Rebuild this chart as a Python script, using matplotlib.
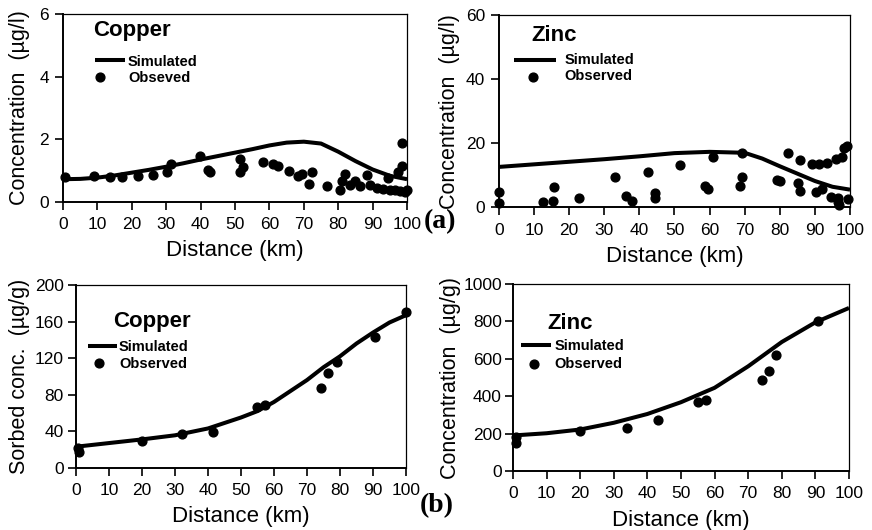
import matplotlib
matplotlib.use("Agg")
import matplotlib.pyplot as plt

plt.rcParams['font.family'] = ['Liberation Sans', 'DejaVu Sans']

# ---------------- data ----------------
# (a) dissolved copper
cu_sim_x = [0, 5, 10, 15, 20, 25, 30, 35, 40, 45, 50, 55, 60, 65, 70, 75, 80, 85, 90, 95, 100]
cu_sim_y = [0.72, 0.73, 0.77, 0.84, 0.93, 1.02, 1.12, 1.23, 1.35, 1.46, 1.57, 1.68, 1.80, 1.89,
            1.92, 1.86, 1.60, 1.30, 1.03, 0.83, 0.72]
cu_obs_x = [0.5, 9, 13.6, 17.2, 21.8, 26.2, 30.3, 31.3, 39.7, 42.2, 42.6, 51.5, 51.5, 52.4,
            58.2, 61.1, 62.6, 65.8, 68.4, 69.4, 71.6, 72.3, 76.6, 80.5, 81, 82, 83.4, 84.9,
            86.3, 88.3, 89.2, 91.2, 93.1, 94.6, 95.1, 96.5, 97.5, 98.0, 98.5, 98.5, 99.4, 99.9]
cu_obs_y = [0.78, 0.81, 0.78, 0.78, 0.81, 0.87, 0.95, 1.21, 1.45, 1.03, 0.95, 1.37, 0.94, 1.11,
            1.26, 1.22, 1.15, 0.97, 0.81, 0.90, 0.58, 0.94, 0.49, 0.38, 0.65, 0.90, 0.54, 0.65,
            0.49, 0.87, 0.54, 0.44, 0.42, 0.76, 0.38, 0.36, 0.94, 0.33, 1.15, 1.88, 0.30, 0.38]

# (a) dissolved zinc
zn_sim_x = [0, 10, 20, 30, 40, 50, 60, 70, 75, 80, 85, 90, 95, 100]
zn_sim_y = [12.6, 13.4, 14.2, 15.0, 15.9, 16.9, 17.3, 17.0, 15.2, 12.8, 10.5, 8.2, 6.4, 5.5]
zn_obs_x = [0, 0, 12.6, 15.8, 15.5, 22.8, 33, 36.1, 37.8, 42.4, 44.4, 44.4, 51.6, 61.1, 58.7,
            59.5, 69.1, 69.3, 68.7, 79.1, 80, 82.2, 85.8, 85.3, 85.8, 89.1, 91.2, 93.5, 90.2,
            91.9, 94.7, 96.1, 97.6, 99, 98.4, 96.6, 96.8, 96.6, 99.5]
zn_obs_y = [4.9, 1.4, 1.75, 6.2, 2.0, 2.8, 9.3, 3.5, 2.1, 10.9, 4.4, 2.8, 13.2, 15.6, 6.7,
            5.6, 16.9, 9.6, 6.7, 8.5, 8.3, 16.9, 14.8, 7.5, 5.2, 13.5, 13.5, 13.8, 4.9,
            5.6, 3.3, 15.0, 15.8, 19.2, 18.4, 2.8, 0.7, 1.8, 2.5]

# (b) sorbed copper
cus_sim_x = [0, 10, 20, 30, 40, 50, 55, 60, 65, 70, 75, 80, 85, 90, 95, 100]
cus_sim_y = [23, 27, 31, 35.5, 43, 55, 62, 72, 84, 96, 110, 122, 136, 148, 159, 167]
cus_obs_x = [1, 0.7, 20.1, 32, 41.5, 54.7, 57.3, 74.1, 76.5, 79, 90.6, 100]
cus_obs_y = [16.7, 21.8, 29.5, 36.4, 39.3, 66.5, 69, 87.3, 103.6, 115.6, 143.6, 170.2]

# (b) sorbed zinc
zns_sim_x = [0, 10, 20, 30, 40, 50, 60, 70, 80, 90, 100]
zns_sim_y = [190, 202, 222, 258, 305, 368, 445, 560, 690, 795, 872]
zns_obs_x = [0.8, 0.8, 19.8, 33.9, 43.1, 55, 57.4, 74, 76.2, 78.4, 90.9]
zns_obs_y = [148, 184, 216, 228.6, 273, 371, 380, 487, 536, 621, 804]

x_ticks = [0, 10, 20, 30, 40, 50, 60, 70, 80, 90, 100]

panels = [
    dict(pos=[0.0723, 0.6194, 0.3945, 0.354], sx=cu_sim_x, sy=cu_sim_y, ox=cu_obs_x, oy=cu_obs_y,
         ylim=(0, 6), yticks=[0, 2, 4, 6], ylabel='Concentration  (µg/l)', title='Copper',
         obs_label='Obseved', ylx=-0.096, ypad=4,
         tpos=(0.087, 0.915), lline=(0.093, 0.180, 0.755), lmark=(0.108, 0.664),
         ltext=(0.189, 0.744, 0.659)),
    dict(pos=[0.5722, 0.6089, 0.4026, 0.3628], sx=zn_sim_x, sy=zn_sim_y, ox=zn_obs_x, oy=zn_obs_y,
         ylim=(0, 60), yticks=[0, 20, 40, 60], ylabel='Concentration  (µg/l)', title='Zinc',
         obs_label='Observed', ylx=-0.111, ypad=4,
         tpos=(0.091, 0.892), lline=(0.043, 0.162, 0.766), lmark=(0.096, 0.676),
         ltext=(0.186, 0.766, 0.683)),
    dict(pos=[0.0872, 0.1175, 0.3784, 0.3447], sx=cus_sim_x, sy=cus_sim_y, ox=cus_obs_x, oy=cus_obs_y,
         ylim=(0, 200), yticks=[0, 40, 80, 120, 160, 200], ylabel='Sorbed conc.  (µg/g)', title='Copper',
         obs_label='Observed', ylx=-0.139, ypad=3,
         tpos=(0.111, 0.799), lline=(0.037, 0.123, 0.666), lmark=(0.071, 0.571),
         ltext=(0.130, 0.662, 0.568)),
    dict(pos=[0.5883, 0.1113, 0.3853, 0.3528], sx=zns_sim_x, sy=zns_sim_y, ox=zns_obs_x, oy=zns_obs_y,
         ylim=(0, 1000), yticks=[0, 200, 400, 600, 800, 1000], ylabel='Concentration  (µg/g)', title='Zinc',
         obs_label='Observed', ylx=-0.155, ypad=2,
         tpos=(0.103, 0.788), lline=(0.024, 0.113, 0.674), lmark=(0.063, 0.572),
         ltext=(0.123, 0.670, 0.572)),
]

fig = plt.figure(figsize=(8.72, 5.30), dpi=100)

for p in panels:
    ax = fig.add_axes(p['pos'])
    ax.plot(p['sx'], p['sy'], color='black', lw=2.9, solid_capstyle='butt', zorder=3)
    ax.scatter(p['ox'], p['oy'], s=40, color='black', zorder=4, clip_on=False)
    ax.set_xlim(0, 100)
    ax.set_ylim(*p['ylim'])
    ax.set_xticks(x_ticks)
    ax.set_yticks(p['yticks'])
    ax.tick_params(direction='out', length=6, width=1.2, labelsize=12.5, pad=5, colors='black')
    ax.tick_params(axis='y', pad=p['ypad'])
    for s in ['left', 'bottom']:
        ax.spines[s].set_linewidth(1.4)
    for s in ['top', 'right']:
        ax.spines[s].set_linewidth(0.9)
    ax.set_xlabel('Distance (km)', fontsize=16, labelpad=6)
    ax.set_ylabel(p['ylabel'], fontsize=15.5)
    ax.yaxis.set_label_coords(p['ylx'], 0.5)
    # in-plot title and key
    ax.text(p['tpos'][0], p['tpos'][1], p['title'], transform=ax.transAxes, fontsize=16,
            fontweight='bold', ha='left', va='center')
    x0, x1, yl = p['lline']
    ax.plot([x0, x1], [yl, yl], transform=ax.transAxes, color='black', lw=2.9,
            solid_capstyle='butt')
    ax.scatter([p['lmark'][0]], [p['lmark'][1]], transform=ax.transAxes, s=40, color='black')
    tx, ty1, ty2 = p['ltext']
    ax.text(tx, ty1, 'Simulated', transform=ax.transAxes, fontsize=10.5, fontweight='bold',
            ha='left', va='center')
    ax.text(tx, ty2, p['obs_label'], transform=ax.transAxes, fontsize=10.5, fontweight='bold',
            ha='left', va='center')

fig.text(440 / 872, 1 - 222 / 530, '(a)', fontsize=20, fontweight='bold',
         family=['Liberation Serif', 'DejaVu Serif'], ha='center', va='center')
fig.text(437 / 872, 1 - 506 / 530, '(b)', fontsize=20, fontweight='bold',
         family=['Liberation Serif', 'DejaVu Serif'], ha='center', va='center')

fig.savefig('out.png', dpi=100)
